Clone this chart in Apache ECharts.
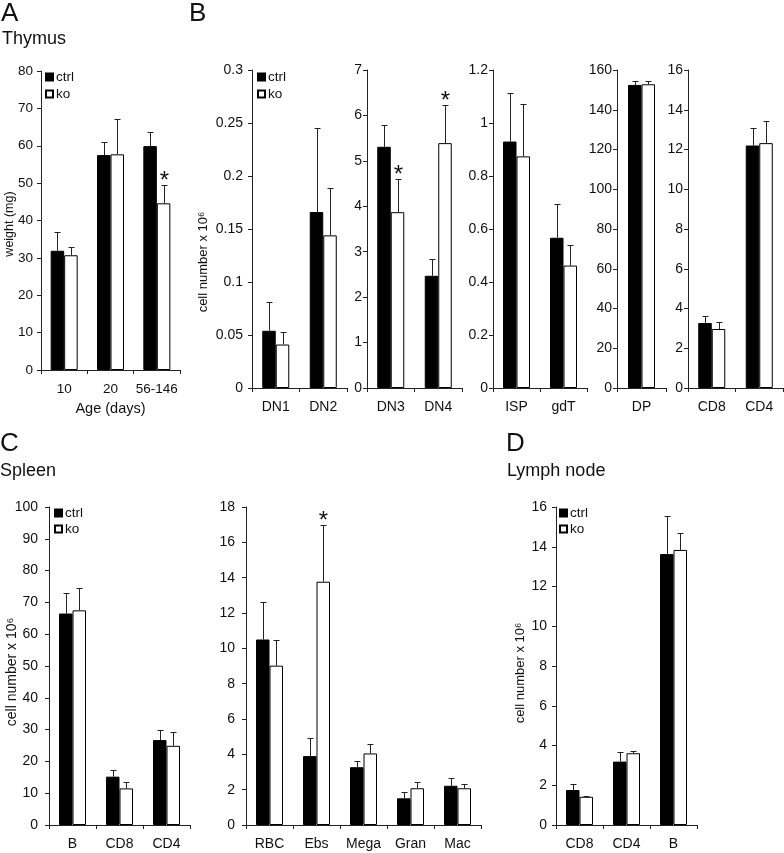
<!DOCTYPE html>
<html><head><meta charset="utf-8">
<script src="https://cdn.jsdelivr.net/npm/echarts@6/dist/echarts.min.js"></script>
<style>html,body{margin:0;padding:0;background:#fff}#c{width:784px;height:853px}</style>
</head><body><div id="c"></div>
<script>
// ---------------- DATA ----------------
// Panel A - Thymus weight (mg)
const aCategories = ['10', '20', '56-146'];
const aCtrl    = [31.9, 57.5, 59.9];
const aCtrlErr = [36.8, 61.1, 63.8];
const aKo      = [30.7, 57.7, 44.6];
const aKoErr   = [32.9, 67.2, 49.5];
const aKoStar  = [0, 0, 1];
const aYMax = 80, aYStep = 10;

// Panel B1 - DN1, DN2
const b1Categories = ['DN1', 'DN2'];
const b1Ctrl    = [0.054, 0.166];
const b1CtrlErr = [0.081, 0.245];
const b1Ko      = [0.041, 0.144];
const b1KoErr   = [0.053, 0.189];
const b1KoStar  = [0, 0];
const b1YMax = 0.3, b1YStep = 0.05;

// Panel B2 - DN3, DN4
const b2Categories = ['DN3', 'DN4'];
const b2Ctrl    = [5.31, 2.47];
const b2CtrlErr = [5.78, 2.84];
const b2Ko      = [3.87, 5.39];
const b2KoErr   = [4.60, 6.22];
const b2KoStar  = [1, 1];
const b2YMax = 7, b2YStep = 1;

// Panel B3 - ISP, gdT
const b3Categories = ['ISP', 'gdT'];
const b3Ctrl    = [0.930, 0.567];
const b3CtrlErr = [1.112, 0.693];
const b3Ko      = [0.874, 0.462];
const b3KoErr   = [1.070, 0.540];
const b3KoStar  = [0, 0];
const b3YMax = 1.2, b3YStep = 0.2;

// Panel B4 - DP
const b4Categories = ['DP'];
const b4Ctrl    = [152.5];
const b4CtrlErr = [154.6];
const b4Ko      = [152.8];
const b4KoErr   = [154.6];
const b4KoStar  = [0];
const b4YMax = 160, b4YStep = 20;

// Panel B5 - CD8, CD4
const b5Categories = ['CD8', 'CD4'];
const b5Ctrl    = [3.27, 12.2];
const b5CtrlErr = [3.60, 13.07];
const b5Ko      = [2.97, 12.32];
const b5KoErr   = [3.32, 13.45];
const b5KoStar  = [0, 0];
const b5YMax = 16, b5YStep = 2;

// Panel C1 - Spleen B, CD8, CD4
const c1Categories = ['B', 'CD8', 'CD4'];
const c1Ctrl    = [66.5, 15.2, 26.7];
const c1CtrlErr = [73.0, 17.2, 29.8];
const c1Ko      = [67.5, 11.5, 24.9];
const c1KoErr   = [74.4, 13.4, 29.3];
const c1KoStar  = [0, 0, 0];
const c1YMax = 100, c1YStep = 10;

// Panel C2 - Spleen RBC ... Mac
const c2Categories = ['RBC', 'Ebs', 'Mega', 'Gran', 'Mac'];
const c2Ctrl    = [10.5, 3.9, 3.27, 1.51, 2.22];
const c2CtrlErr = [12.6, 4.94, 3.65, 1.85, 2.65];
const c2Ko      = [9.02, 13.77, 4.05, 2.08, 2.08];
const c2KoErr   = [10.5, 17.0, 4.6, 2.45, 2.30];
const c2KoStar  = [0, 1, 0, 0, 0];
const c2YMax = 18, c2YStep = 2;

// Panel D - Lymph node
const dCategories = ['CD8', 'CD4', 'B'];
const dCtrl    = [1.76, 3.19, 13.63];
const dCtrlErr = [2.06, 3.66, 15.56];
const dKo      = [1.42, 3.61, 13.84];
const dKoErr   = [1.48, 3.74, 14.7];
const dKoStar  = [0, 0, 0];
const dYMax = 16, dYStep = 2;

// ---------------- LAYOUT ----------------
const FONT = '"Liberation Sans", Arial, Helvetica, sans-serif';
const BW = 13.5;

const panels = [
  {cats:aCategories, ctrl:aCtrl, ctrlErr:aCtrlErr, ko:aKo, koErr:aKoErr, koStar:aKoStar, max:aYMax, step:aYStep},
  {cats:b1Categories, ctrl:b1Ctrl, ctrlErr:b1CtrlErr, ko:b1Ko, koErr:b1KoErr, koStar:b1KoStar, max:b1YMax, step:b1YStep},
  {cats:b2Categories, ctrl:b2Ctrl, ctrlErr:b2CtrlErr, ko:b2Ko, koErr:b2KoErr, koStar:b2KoStar, max:b2YMax, step:b2YStep},
  {cats:b3Categories, ctrl:b3Ctrl, ctrlErr:b3CtrlErr, ko:b3Ko, koErr:b3KoErr, koStar:b3KoStar, max:b3YMax, step:b3YStep},
  {cats:b4Categories, ctrl:b4Ctrl, ctrlErr:b4CtrlErr, ko:b4Ko, koErr:b4KoErr, koStar:b4KoStar, max:b4YMax, step:b4YStep},
  {cats:b5Categories, ctrl:b5Ctrl, ctrlErr:b5CtrlErr, ko:b5Ko, koErr:b5KoErr, koStar:b5KoStar, max:b5YMax, step:b5YStep},
  {cats:c1Categories, ctrl:c1Ctrl, ctrlErr:c1CtrlErr, ko:c1Ko, koErr:c1KoErr, koStar:c1KoStar, max:c1YMax, step:c1YStep},
  {cats:c2Categories, ctrl:c2Ctrl, ctrlErr:c2CtrlErr, ko:c2Ko, koErr:c2KoErr, koStar:c2KoStar, max:c2YMax, step:c2YStep},
  {cats:dCategories, ctrl:dCtrl, ctrlErr:dCtrlErr, ko:dKo, koErr:dKoErr, koStar:dKoStar, max:dYMax, step:dYStep}
];

const layouts = [
  {left:41,  top:71,  width:139, height:299, fs:13.5, ym:8},
  {left:252, top:70,  width:95,  height:318, fs:14, ym:9},
  {left:367, top:70,  width:95,  height:318, fs:14, ym:5},
  {left:493, top:70,  width:94,  height:318, fs:14, ym:5},
  {left:617, top:70,  width:49,  height:318, fs:14, ym:5},
  {left:688, top:70,  width:95,  height:318, fs:14, ym:5},
  {left:49,  top:507, width:141, height:318, fs:14, ym:11},
  {left:246, top:507, width:235, height:318, fs:14, ym:11},
  {left:556, top:507, width:141, height:318, fs:14, ym:9}
];

function errRender(params, api) {
  const cat = api.value(0), v = api.value(1), top = api.value(2), side = api.value(3), star = api.value(4);
  const base = api.coord([cat, v]);
  const tp = api.coord([cat, top]);
  const x = Math.round(base[0] + side * BW / 2) + 0.5;
  const yt = Math.round(tp[1]) + 0.5;
  const children = [
    {type:'line', shape:{x1:x, y1:base[1], x2:x, y2:yt}, style:{stroke:'#222', lineWidth:1}},
    {type:'line', shape:{x1:x-3, y1:yt, x2:x+3, y2:yt}, style:{stroke:'#222', lineWidth:1}}
  ];
  if (star) {
    children.push({type:'text', x:x, y:yt - 4,
      style:{text:'*', fontSize:24, fontFamily:FONT, fill:'#111', align:'center', verticalAlign:'middle'}});
  }
  return {type:'group', children};
}

const grid = [], xAxis = [], yAxis = [], series = [];
panels.forEach((p, i) => {
  const L = layouts[i];
  grid.push({left:L.left, top:L.top, width:L.width, height:L.height, containLabel:false, outerBoundsMode:'none'});
  xAxis.push({
    type:'category', gridIndex:i, data:p.cats,
    axisLine:{show:true, lineStyle:{color:'#222', width:1}},
    axisTick:{show:true, length:4, lineStyle:{color:'#222'}},
    axisLabel:{fontSize:L.fs, fontFamily:FONT, color:'#111', margin:12, interval:0, hideOverlap:false},
    splitLine:{show:false},
    name: i === 0 ? 'Age (days)' : '',
    nameLocation:'middle', nameGap:31,
    nameTextStyle:{fontSize:14.5, fontFamily:FONT, color:'#111'}
  });
  yAxis.push({
    type:'value', gridIndex:i, min:0, max:p.max, interval:p.step,
    axisLine:{show:true, lineStyle:{color:'#222', width:1}},
    axisTick:{show:true, length:4, lineStyle:{color:'#222'}},
    axisLabel:{fontSize:L.fs, fontFamily:FONT, color:'#111', margin:L.ym},
    splitLine:{show:false}
  });
  series.push({
    type:'bar', name:'ctrl', xAxisIndex:i, yAxisIndex:i, data:p.ctrl,
    barWidth:BW, barGap:'0%',
    itemStyle:{color:'#000', borderColor:'#000', borderWidth:1},
    emphasis:{disabled:true}, silent:true, animation:false
  });
  series.push({
    type:'bar', name:'ko', xAxisIndex:i, yAxisIndex:i, data:p.ko,
    barWidth:BW, barGap:'0%',
    itemStyle:{color:'#fff', borderColor:'#000', borderWidth:1},
    emphasis:{disabled:true}, silent:true, animation:false
  });
  const errData = [];
  p.cats.forEach((c, k) => {
    errData.push([k, p.ctrl[k], p.ctrlErr[k], -1, 0]);
    errData.push([k, p.ko[k], p.koErr[k], 1, p.koStar[k]]);
  });
  series.push({
    type:'custom', name:'err' + i, xAxisIndex:i, yAxisIndex:i, data:errData,
    renderItem:errRender, encode:{x:0, y:1}, z:5, silent:true, animation:false
  });
});

function legendAt(left, top, gap) {
  return {
    data:['ctrl', 'ko'], left:left, top:top, orient:'vertical', icon:'rect',
    itemWidth:7, itemHeight:7, itemGap:gap, padding:0, selectedMode:false,
    textStyle:{fontSize:13.5, fontFamily:FONT, color:'#111', padding:[0,0,0,-2]}
  };
}

function txt(x, y, text, size, rot) {
  const el = {type:'text', x:x, y:y, silent:true,
    style:{text:text, fontSize:size, fontFamily:FONT, fill:'#111',
      align: rot ? 'center' : 'left', verticalAlign: rot ? 'middle' : 'top'}};
  if (rot) el.rotation = Math.PI / 2;
  return el;
}

const option = {
  backgroundColor:'#fff',
  animation:false,
  grid, xAxis, yAxis, series,
  legend:[legendAt(45, 70, 3), legendAt(257, 70, 3), legendAt(54, 506, 2), legendAt(559, 506, 2)],
  graphic:[
    txt(1, 1, 'A', 26), txt(189, 1, 'B', 26), txt(0, 431, 'C', 26), txt(506, 431, 'D', 26),
    txt(2, 30, 'Thymus', 18), txt(0, 462, 'Spleen', 18), txt(507, 462, 'Lymph node', 18),
    txt(10, 224, 'weight (mg)', 12.5, true),
    txt(203, 262, 'cell number x 10⁶', 13, true),
    txt(12, 672, 'cell number x 10⁶', 14, true),
    txt(520, 673, 'cell number x 10⁶', 13, true)
  ]
};

const chart = echarts.init(document.getElementById('c'), null, {renderer:'canvas'});
chart.setOption(option);
</script></body></html>
